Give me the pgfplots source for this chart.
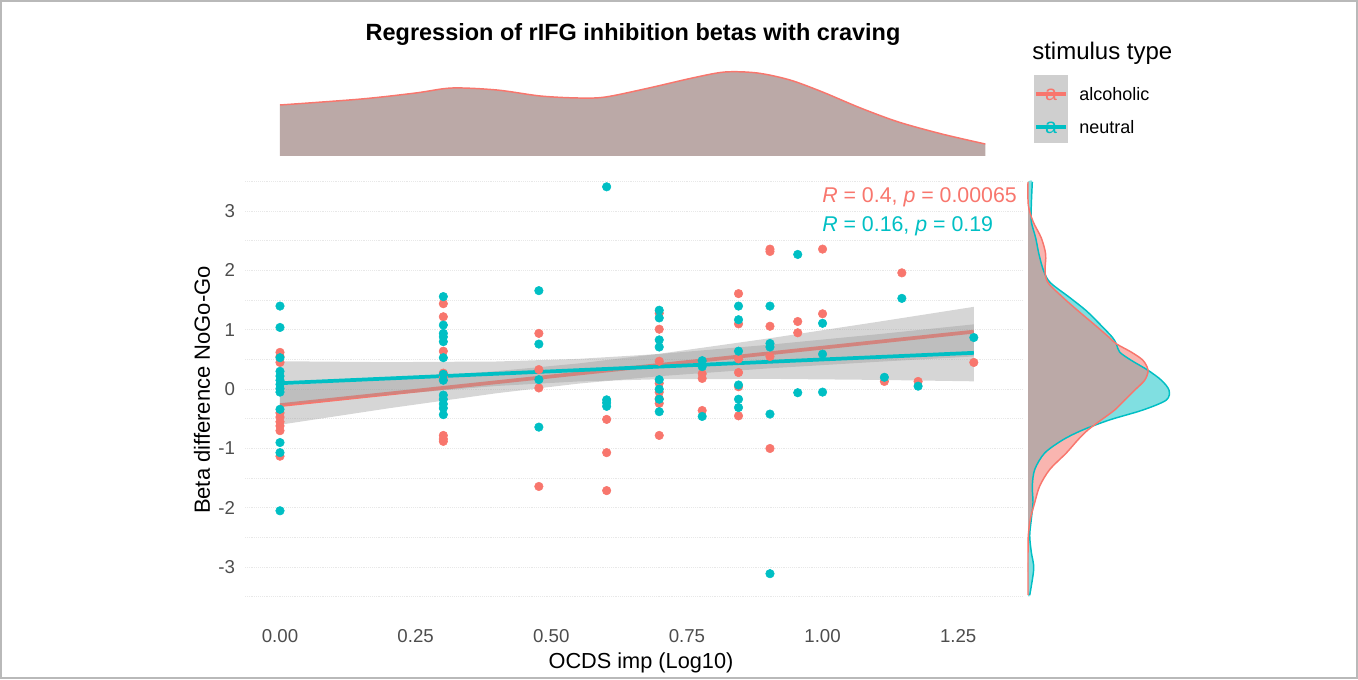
\documentclass[border=0pt]{standalone}
\usepackage{pgfplots}
\pgfplotsset{compat=1.18}
\usepackage{fontspec}
\setmainfont{Liberation Sans}

\definecolor{ggred}{HTML}{F8766D}
\definecolor{ggteal}{HTML}{00BFC4}
\definecolor{tickgray}{HTML}{4D4D4D}
\definecolor{redfill}{HTML}{F9B5B0}
\definecolor{tealfill}{HTML}{80DFE1}
\definecolor{mixfill}{HTML}{BBA9A7}
\definecolor{keygray}{HTML}{CFCFCF}

\begin{document}
\begin{tikzpicture}[x=0.75pt,y=0.75pt]
\useasboundingbox (0,0) rectangle (1358,679);
\draw[gray!55, line width=1pt] (1,1) rectangle (1357,678);

% main scatter panel
\begin{axis}[
  at={(183.75pt,60.75pt)}, anchor=south west,
  scale only axis, width=582.5pt, height=312.4pt,
  xmin=-0.0645, xmax=1.367, ymin=-3.52, ymax=3.5,
  axis line style={draw=none},
  major tick length=0pt, minor tick length=0pt,
  xtick={0,0.25,0.5,0.75,1,1.25},
  xticklabels={0.00,0.25,0.50,0.75,1.00,1.25},
  ytick={-3,-2,-1,0,1,2,3},
  yticklabels={-3,-2,-1,0,1,2,3},
  minor ytick={-3.5,-2.5,-1.5,-0.5,0.5,1.5,2.5,3.5},
  ymajorgrids, yminorgrids,
  major grid style={gray!18, densely dotted, line width=0.6pt},
  minor grid style={gray!18, densely dotted, line width=0.6pt},
  tick label style={font=\fontsize{14}{16}\selectfont, text=tickgray},
  xticklabel style={yshift=-20pt},
  yticklabel style={xshift=-4pt},
]
% alcoholic
\addplot[only marks, mark=*, mark size=3.2pt, ggred] coordinates {
  (0,0.62) (0,0.55) (0,0.45) (0,-0.40) (0,-0.47) (0,-0.55) (0,-0.62) (0,-0.70) (0,-1.13)
  (0.30103,1.44) (0.30103,1.22) (0.30103,0.64) (0.30103,0.27) (0.30103,0.20)
  (0.30103,-0.78) (0.30103,-0.84) (0.30103,-0.88)
  (0.47712,0.94) (0.47712,0.33) (0.47712,0.02) (0.47712,-1.64)
  (0.60206,-0.51) (0.60206,-1.07) (0.60206,-1.71)
  (0.69897,1.28) (0.69897,1.01) (0.69897,0.47) (0.69897,0.10) (0.69897,-0.05)
  (0.69897,-0.16) (0.69897,-0.24) (0.69897,-0.78)
  (0.77815,0.26) (0.77815,0.18) (0.77815,-0.36)
  (0.84510,1.61) (0.84510,1.10) (0.84510,0.51) (0.84510,0.28) (0.84510,0.04) (0.84510,-0.45)
  (0.90309,2.36) (0.90309,2.32) (0.90309,1.06) (0.90309,0.55) (0.90309,-1.00)
  (0.95424,1.14) (0.95424,0.95)
  (1.0,2.36) (1.0,1.27)
  (1.11394,0.13) (1.14613,1.96) (1.17609,0.13) (1.27875,0.45)
};
% neutral
\addplot[only marks, mark=*, mark size=3.2pt, ggteal] coordinates {
  (0,1.40) (0,1.04) (0,0.53) (0,0.30) (0,0.22) (0,0.15) (0,0.08) (0,0.01) (0,-0.05)
  (0,-0.34) (0,-0.90) (0,-1.07) (0,-2.05)
  (0.30103,1.56) (0.30103,1.08) (0.30103,0.94) (0.30103,0.88) (0.30103,0.80)
  (0.30103,0.53) (0.30103,0.25) (0.30103,0.15) (0.30103,-0.10) (0.30103,-0.17)
  (0.30103,-0.25) (0.30103,-0.32) (0.30103,-0.43)
  (0.47712,1.66) (0.47712,0.76) (0.47712,0.16) (0.47712,-0.64)
  (0.60206,3.41) (0.60206,-0.18) (0.60206,-0.23) (0.60206,-0.29)
  (0.69897,1.33) (0.69897,1.20) (0.69897,0.83) (0.69897,0.71) (0.69897,0.16)
  (0.69897,0.00) (0.69897,-0.17) (0.69897,-0.38)
  (0.77815,0.48) (0.77815,0.38) (0.77815,-0.46)
  (0.84510,1.40) (0.84510,1.17) (0.84510,0.64) (0.84510,0.07) (0.84510,-0.17) (0.84510,-0.31)
  (0.90309,1.40) (0.90309,0.77) (0.90309,0.71) (0.90309,-0.42) (0.90309,-3.11)
  (0.95424,2.27) (0.95424,-0.06)
  (1.0,1.11) (1.0,0.59) (1.0,-0.05)
  (1.11394,0.20) (1.14613,1.53) (1.17609,0.05) (1.27875,0.87)
};
% alcoholic fit with 95% band
\addplot[fill=black!40, fill opacity=0.4, draw=none] coordinates {
  (0,0.06) (0.2,0.171) (0.4,0.304) (0.55,0.433) (0.7,0.597) (0.9,0.854) (1.1,1.132) (1.27875,1.387)
  (1.27875,0.551) (1.1,0.460) (0.9,0.350) (0.7,0.219) (0.55,0.093) (0.4,-0.068) (0.2,-0.323) (0,-0.60)
} -- cycle;
\addplot[ggred, line width=2.8pt] coordinates {(0,-0.27) (1.27875,0.969)};
% neutral fit with 95% band
\addplot[fill=black!40, fill opacity=0.4, draw=none] coordinates {
  (0,0.47) (0.2,0.455) (0.4,0.466) (0.55,0.51) (0.7,0.593) (0.9,0.747) (1.1,0.924) (1.27875,1.092)
  (1.27875,0.132) (1.1,0.156) (0.9,0.173) (0.7,0.167) (0.55,0.13) (0.4,0.054) (0.2,-0.095) (0,-0.27)
} -- cycle;
\addplot[ggteal, line width=2.8pt] coordinates {(0,0.10) (1.27875,0.612)};
\end{axis}

% top marginal density
\begin{axis}[
  at={(183.75pt,392.25pt)}, anchor=south west,
  scale only axis, width=582.5pt, height=75pt,
  xmin=-0.0645, xmax=1.367, ymin=0, ymax=100,
  hide axis, clip=false,
]
\addplot[fill=mixfill, draw=none, smooth] coordinates {
  (0,51) (0.15,57) (0.25,63) (0.317,68) (0.40,66) (0.48,60) (0.55,58) (0.60,59)
  (0.68,68) (0.76,78) (0.82,84) (0.88,83) (0.94,76) (1.00,64) (1.07,48) (1.14,34)
  (1.22,22) (1.30,12)
} \closedcycle;
\addplot[ggred, line width=1.1pt, smooth] coordinates {
  (0,51) (0.15,57) (0.25,63) (0.317,68) (0.40,66) (0.48,60) (0.55,58) (0.60,59)
  (0.68,68) (0.76,78) (0.82,84) (0.88,83) (0.94,76) (1.00,64) (1.07,48) (1.14,34)
  (1.22,22) (1.30,12)
};
\end{axis}

% right marginal density
\begin{axis}[
  at={(771pt,60.75pt)}, anchor=south west,
  scale only axis, width=120pt, height=312.4pt,
  xmin=0, xmax=160, ymin=-3.52, ymax=3.5,
  hide axis, clip=false,
]
\addplot[fill=tealfill, draw=none, smooth] coordinates {
  (0,3.495) (4.3,3.495) (3.3,3.105) (3.3,2.826) (7.7,2.547) (11,2.269) (15.7,1.990)
  (22.3,1.795) (41.7,1.544) (58.3,1.321) (71.7,1.098) (84.3,0.875) (88.3,0.764)
  (91.7,0.624) (103.3,0.485) (120,0.318) (133.3,0.151) (141,-0.017) (138.3,-0.184)
  (115,-0.351) (81.7,-0.518) (55,-0.686) (35,-0.853) (16.7,-1.076) (6.7,-1.355)
  (4.3,-1.633) (5,-1.912) (3.3,-2.191) (1.7,-2.469) (3.3,-2.748) (5.7,-3.027)
  (1.7,-3.473) (0,-3.473)
} -- cycle;
\addplot[fill=redfill, draw=none, smooth] coordinates {
  (0,3.495) (0.3,3.105) (5,2.826) (13.3,2.547) (17.7,2.269) (17,1.990) (20,1.795)
  (35,1.544) (50,1.321) (65.7,1.098) (81,0.875) (88.3,0.764) (103.3,0.624) (115,0.485)
  (120,0.318) (116.7,0.151) (106.7,-0.017) (96.7,-0.184) (86.7,-0.351) (73.3,-0.518)
  (60,-0.686) (50,-0.853) (38.3,-1.076) (21.7,-1.355) (11.7,-1.633) (6.7,-1.912)
  (2.3,-2.191) (0.3,-2.469) (0,-2.748) (0,-3.473)
} -- cycle;
\addplot[fill=mixfill, draw=none, smooth] coordinates {
  (0,3.495) (0.3,3.105) (3.3,2.826) (7.7,2.547) (11,2.269) (15.7,1.990) (20,1.795)
  (35,1.544) (50,1.321) (65.7,1.098) (81,0.875) (88.3,0.764) (91.7,0.624) (103.3,0.485)
  (120,0.318) (116.7,0.151) (106.7,-0.017) (96.7,-0.184) (86.7,-0.351) (73.3,-0.518)
  (55,-0.686) (35,-0.853) (16.7,-1.076) (6.7,-1.355) (4.3,-1.633) (5,-1.912)
  (2.3,-2.191) (0.3,-2.469) (0,-2.748) (0,-3.473)
} -- cycle;
\addplot[ggteal, line width=1.1pt, smooth] coordinates {
  (4.3,3.495) (3.3,3.105) (3.3,2.826) (7.7,2.547) (11,2.269) (15.7,1.990)
  (22.3,1.795) (41.7,1.544) (58.3,1.321) (71.7,1.098) (84.3,0.875) (88.3,0.764)
  (91.7,0.624) (103.3,0.485) (120,0.318) (133.3,0.151) (141,-0.017) (138.3,-0.184)
  (115,-0.351) (81.7,-0.518) (55,-0.686) (35,-0.853) (16.7,-1.076) (6.7,-1.355)
  (4.3,-1.633) (5,-1.912) (3.3,-2.191) (1.7,-2.469) (3.3,-2.748) (5.7,-3.027)
  (1.7,-3.473)
};
\addplot[ggred, line width=1.1pt, smooth] coordinates {
  (0,3.495) (0.3,3.105) (5,2.826) (13.3,2.547) (17.7,2.269) (17,1.990) (20,1.795)
  (35,1.544) (50,1.321) (65.7,1.098) (81,0.875) (88.3,0.764) (103.3,0.624) (115,0.485)
  (120,0.318) (116.7,0.151) (106.7,-0.017) (96.7,-0.184) (86.7,-0.351) (73.3,-0.518)
  (60,-0.686) (50,-0.853) (38.3,-1.076) (21.7,-1.355) (11.7,-1.633) (6.7,-1.912)
  (2.3,-2.191) (0.3,-2.469) (0,-2.748) (0,-3.473)
};
\end{axis}

% titles and annotations
\node[font=\bfseries\fontsize{17.6}{20}\selectfont] at (633,645) {Regression of rIFG inhibition betas with craving};
\node[font=\fontsize{16.3}{19}\selectfont] at (641,16) {OCDS imp (Log10)};
\node[font=\fontsize{16.5}{19}\selectfont, rotate=90] at (202,289) {Beta difference NoGo-Go};
\node[font=\fontsize{16}{19}\selectfont, text=ggred, anchor=west, inner sep=0pt] at (822,482) {\textit{R} = 0.4, \textit{p} = 0.00065};
\node[font=\fontsize{16}{19}\selectfont, text=ggteal, anchor=west, inner sep=0pt] at (822,453) {\textit{R} = 0.16, \textit{p} = 0.19};

% legend
\node[font=\fontsize{18}{21}\selectfont, anchor=west, inner sep=0pt] at (1032,626) {stimulus type};
\fill[keygray] (1034,536) rectangle (1068,604);
\draw[ggred, line width=2.6pt] (1036,585) -- (1066,585);
\node[text=ggred, font=\fontsize{16}{18}\selectfont, inner sep=0pt] at (1051,584) {a};
\draw[ggteal, line width=2.6pt] (1036,552) -- (1066,552);
\node[text=ggteal, font=\fontsize{16}{18}\selectfont, inner sep=0pt] at (1051,551) {a};
\node[font=\fontsize{13.5}{16}\selectfont, anchor=west, inner sep=0pt] at (1079,585) {alcoholic};
\node[font=\fontsize{13.5}{16}\selectfont, anchor=west, inner sep=0pt] at (1079,552) {neutral};
\end{tikzpicture}
\end{document}
